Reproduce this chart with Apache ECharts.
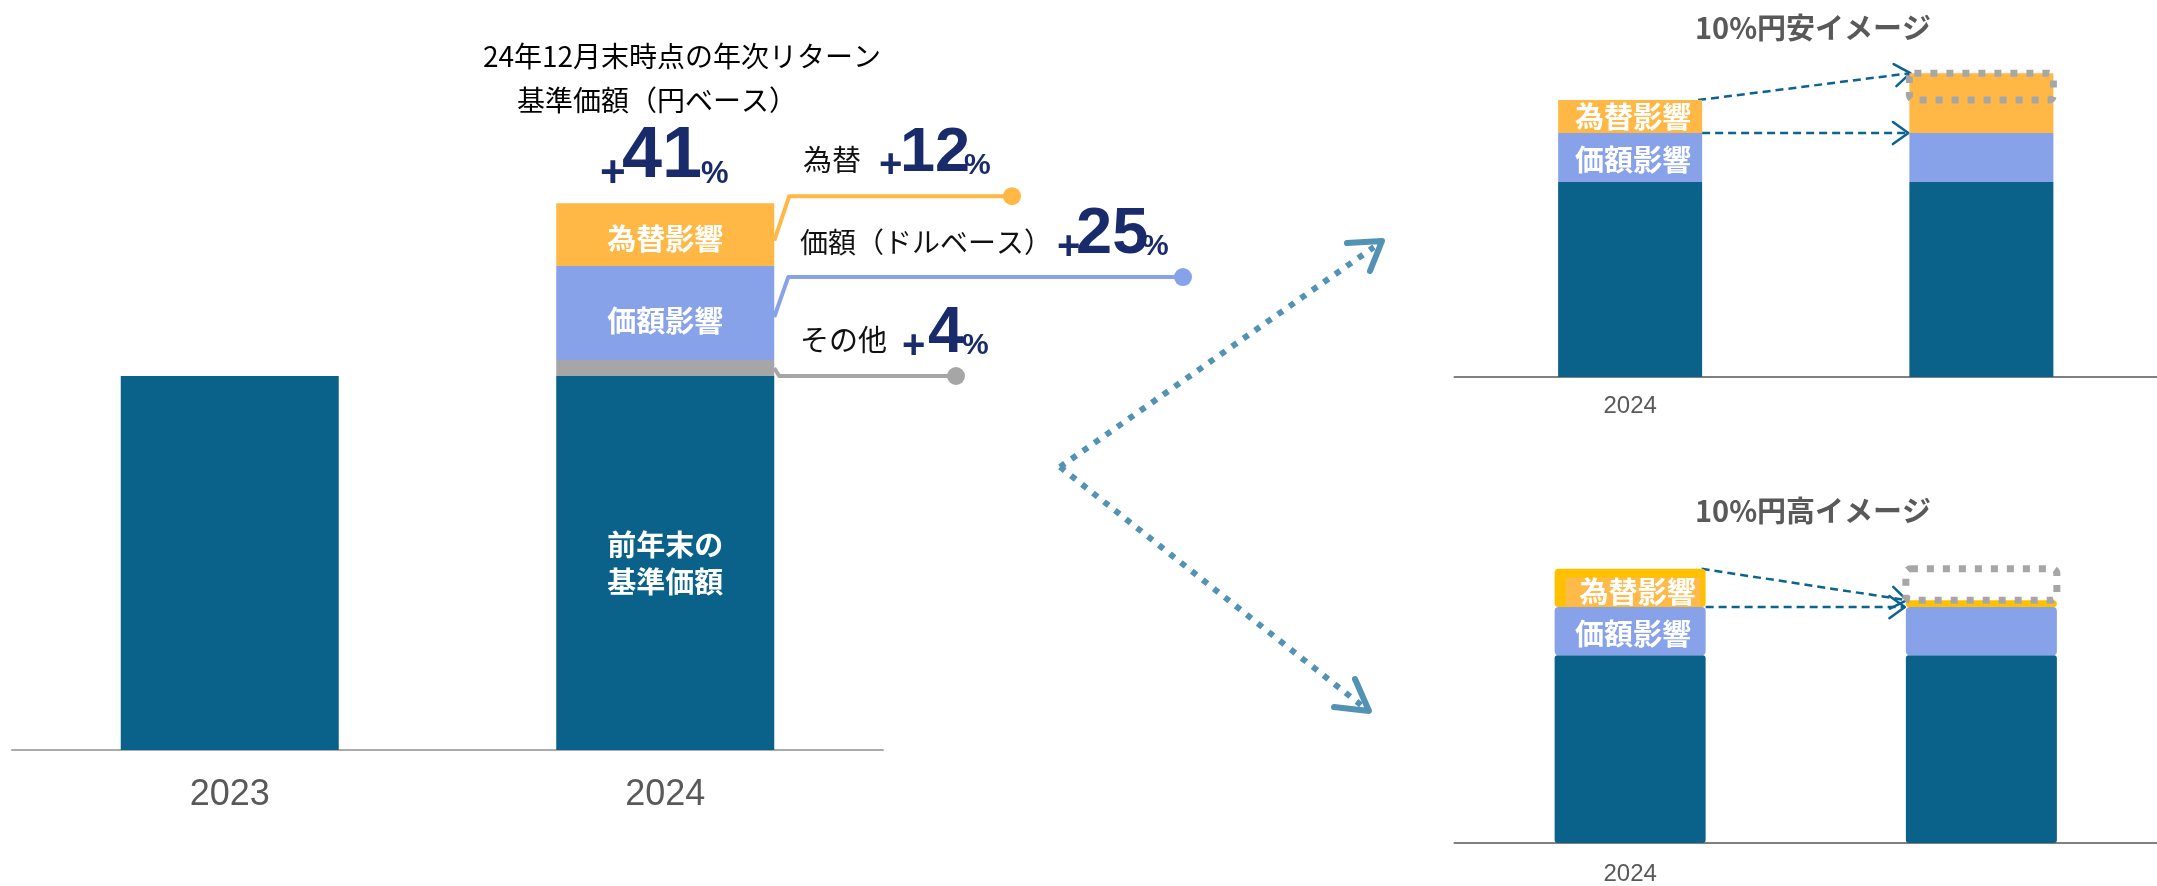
<!DOCTYPE html>
<html>
<head>
<meta charset="utf-8">
<script src="https://cdn.jsdelivr.net/npm/echarts@6.0.0/dist/echarts.min.js"></script>
<style>html,body{margin:0;padding:0;background:#fff}#c{width:2157px;height:886px}</style>
</head>
<body>
<div id="c"></div>
<script>
// ---------- data ----------
const mainCategories = ['2023', '2024'];
const mainBase  = [100, 100];
const mainOther = ['-', 4.3];
const mainPrice = ['-', 25.1];
const mainFx    = ['-', 16.8];

const sceneCategories = ['2024', ''];
const weakBase    = [100, 100];
const weakPrice   = [25.1, 25.1];
const weakFx      = [16.9, 16.9];
const weakFxExtra = ['-', 13.8];

const strongBase   = [100, 100];
const strongPrice  = [25.7, 25.7];
const strongFx     = [20.4, 3.7];
const strongFxLost = ['-', 16.8];

const titleLines = ['24年12月末時点の年次リターン', '基準価額（円ベース）'];
const totalReturn = '41';
const breakdownNames  = ['為替', '価額（ドルベース）', 'その他'];
const breakdownValues = ['12', '25', '4'];
const scenarioTitles = ['10%円安イメージ', '10%円高イメージ'];
const segmentNames = ['為替影響', '価額影響', '前年末の\n基準価額'];

// ---------- style ----------
const FONT_JP = '"Noto Sans CJK JP", "Noto Sans", sans-serif';
const FONT_NUM = '"Liberation Sans", Arial, "Noto Sans CJK JP", sans-serif';
const C_BASE = '#0A6189', C_PRICE = '#87A2E8', C_FX = '#FFB845', C_OTHER = '#A6A6A6', C_FX2 = '#FFC000';
const C_NAVY = '#1A2B6C', C_ARROW = '#0B6390', C_BIG = '#5292B5', C_DOT = '#A6A6A6';

const chart = echarts.init(document.getElementById('c'), null, {renderer: 'canvas'});

function lbl(text, idx, extra) {
  return Object.assign({
    show: true, position: 'inside', color: '#fff', fontWeight: 'bold', fontSize: 29,
    fontFamily: FONT_JP, formatter: p => (p.dataIndex === idx ? text : '')
  }, extra || {});
}
function bar(name, data, gi, color, barWidth, extra) {
  return Object.assign({
    type: 'bar', name, data, stack: 's' + gi, xAxisIndex: gi, yAxisIndex: gi,
    barWidth, itemStyle: {color}, silent: true, animation: false
  }, extra || {});
}

const xAxisCommon = {
  type: 'category', axisTick: {show: false},
  axisLabel: {color: '#595959', fontFamily: FONT_NUM}
};

const BW_MAIN = 218, BW_WEAK = 144, BW_STRONG = 151;

chart.setOption({
  backgroundColor: '#fff',
  animation: false,
  grid: [
    {left: 12, width: 871, top: 189, bottom: 136},
    {left: 1454.5, width: 718, top: 26, bottom: 509},
    {left: 1454.5, width: 718, top: 505.2, bottom: 37}
  ],
  xAxis: [
    Object.assign({}, xAxisCommon, {gridIndex: 0, data: mainCategories,
      axisLine: {lineStyle: {color: '#ABABAB', width: 2}},
      axisLabel: {color: '#595959', fontFamily: FONT_NUM, fontSize: 36, margin: 27}}),
    Object.assign({}, xAxisCommon, {gridIndex: 1, data: sceneCategories,
      axisLine: {lineStyle: {color: '#808080', width: 2}},
      axisLabel: {color: '#595959', fontFamily: FONT_NUM, fontSize: 24, margin: 17}}),
    Object.assign({}, xAxisCommon, {gridIndex: 2, data: sceneCategories,
      axisLine: {lineStyle: {color: '#808080', width: 2}},
      axisLabel: {color: '#595959', fontFamily: FONT_NUM, fontSize: 24, margin: 19}})
  ],
  yAxis: [
    {gridIndex: 0, type: 'value', min: 0, max: 150, show: false, splitLine: {show: false}},
    {gridIndex: 1, type: 'value', min: 0, max: 180, show: false, splitLine: {show: false}},
    {gridIndex: 2, type: 'value', min: 0, max: 180, show: false, splitLine: {show: false}}
  ],
  series: [
    bar('base', mainBase, 0, C_BASE, BW_MAIN, {label: lbl(segmentNames[2], 1, {lineHeight: 37})}),
    bar('other', mainOther, 0, C_OTHER, BW_MAIN),
    bar('price', mainPrice, 0, C_PRICE, BW_MAIN, {label: lbl(segmentNames[1], 1, {offset: [0, 8]})}),
    bar('fx', mainFx, 0, C_FX, BW_MAIN, {label: lbl(segmentNames[0], 1, {offset: [0, 4]})}),

    bar('base', weakBase, 1, C_BASE, BW_WEAK),
    bar('price', weakPrice, 1, C_PRICE, BW_WEAK, {label: lbl(segmentNames[1], 0, {offset: [3, 2]})}),
    bar('fx', weakFx, 1, C_FX, BW_WEAK, {label: lbl(segmentNames[0], 0, {offset: [3, 0]})}),
    bar('fxExtra', weakFxExtra, 1, C_FX, BW_WEAK),

    bar('base', strongBase, 2, C_BASE, BW_STRONG, {itemStyle: {color: C_BASE, borderRadius: 3}}),
    bar('price', strongPrice, 2, C_PRICE, BW_STRONG, {itemStyle: {color: C_PRICE, borderRadius: 4},
      label: lbl(segmentNames[1], 0, {offset: [3, 3]})}),
    bar('fx', strongFx, 2, C_FX2, BW_STRONG, {itemStyle: {color: C_FX2, borderRadius: 4},
      label: lbl(segmentNames[0], 0, {offset: [3, 4], backgroundColor: '#FFBA4A', padding: [0, 5, 0, 14]})}),
    bar('fxLost', strongFxLost, 2, 'rgba(0,0,0,0)', BW_STRONG)
  ]
});

// ---------- annotations (positions derived from the axes) ----------
const px = (gi, cat, val) => chart.convertToPixel({gridIndex: gi}, [cat, val]);
const num = v => (typeof v === 'number' ? v : 0);
const sum = (arrs, i) => arrs.reduce((s, a) => s + num(a[i]), 0);
const g = [];

function text(x, y, t, size, color, weight, align, family) {
  g.push({type: 'text', x, y, silent: true, style: {text: t, fill: color,
    font: (weight || 'normal') + ' ' + size + 'px ' + (family || FONT_JP),
    align: align || 'left', verticalAlign: 'middle'}});
}
function poly(points, stroke, w, dash, cap) {
  g.push({type: 'polyline', silent: true, shape: {points},
    style: {stroke, lineWidth: w, fill: null, lineDash: dash || null, lineCap: cap || 'butt', lineJoin: 'round'}});
}
function dot(x, y, r, c) { g.push({type: 'circle', silent: true, shape: {cx: x, cy: y, r}, style: {fill: c}}); }
function head(tip, from, len, ang, color, w) {
  const a = Math.atan2(tip[1] - from[1], tip[0] - from[0]);
  const p1 = [tip[0] - len * Math.cos(a - ang), tip[1] - len * Math.sin(a - ang)];
  const p2 = [tip[0] - len * Math.cos(a + ang), tip[1] - len * Math.sin(a + ang)];
  poly([p1, tip, p2], color, w, null, 'round');
}
function dottedBox(gi, cat, lo, hi, bw) {
  const c = px(gi, cat, 0)[0];
  const yHi = px(gi, cat, hi)[1], yLo = px(gi, cat, lo)[1];
  g.push({type: 'rect', silent: true, z: 10,
    shape: {x: c - bw / 2, y: yHi, width: bw, height: yLo - yHi, r: 5},
    style: {fill: null, stroke: C_DOT, lineWidth: 7, lineDash: [7, 9]}});
}

// titles
text(682, 56, titleLines[0], 28, '#000', 'normal', 'center');
text(657, 100, titleLines[1], 28, '#000', 'normal', 'center');

// total return
text(600, 175, '+', 44, C_NAVY, 'bold', 'left', FONT_NUM);
text(622, 157, totalReturn, 72, C_NAVY, 'bold', 'left', FONT_NUM);
text(701, 174, '%', 31, C_NAVY, 'bold', 'left', FONT_NUM);

// leader lines from the 2024 bar
const c24 = px(0, 1, 0)[0];
const xR = c24 + BW_MAIN / 2;
const yBaseTop = px(0, 1, mainBase[1])[1];
const yOtherTop = px(0, 1, sum([mainBase, mainOther], 1))[1];
const yPriceTop = px(0, 1, sum([mainBase, mainOther, mainPrice], 1))[1];
const yFxTop = px(0, 1, sum([mainBase, mainOther, mainPrice, mainFx], 1))[1];
const yFxMid = (yFxTop + yPriceTop) / 2, yPriceMid = (yPriceTop + yOtherTop) / 2, yOtherMid = (yOtherTop + yBaseTop) / 2;

const lvFx = yFxTop - 7, lvPrice = yPriceTop + 11, lvOther = yBaseTop;
poly([[xR, yFxMid + 6], [xR + 15, lvFx], [1012, lvFx]], C_FX, 4);
dot(1012, lvFx, 9, C_FX);
poly([[xR, yPriceMid + 4], [xR + 14, lvPrice], [1183, lvPrice]], C_PRICE, 4);
dot(1183, lvPrice, 9, C_PRICE);
poly([[xR, yOtherMid], [xR + 5, lvOther], [956, lvOther]], C_OTHER, 4);
dot(956, lvOther, 9, C_OTHER);

// breakdown labels
text(803, 160, breakdownNames[0], 29, '#111');
text(879, 166, '+', 40, C_NAVY, 'bold', 'left', FONT_NUM);
text(900, 154, breakdownValues[0], 63, C_NAVY, 'bold', 'left', FONT_NUM);
text(964, 166, '%', 30, C_NAVY, 'bold', 'left', FONT_NUM);

text(800, 242, breakdownNames[1], 28, '#111');
text(1057, 248, '+', 40, C_NAVY, 'bold', 'left', FONT_NUM);
text(1076, 235, breakdownValues[1], 65, C_NAVY, 'bold', 'left', FONT_NUM);
text(1142, 247, '%', 30, C_NAVY, 'bold', 'left', FONT_NUM);

text(800, 340, breakdownNames[2], 29, '#111');
text(902, 347, '+', 40, C_NAVY, 'bold', 'left', FONT_NUM);
text(928, 334, breakdownValues[2], 64, C_NAVY, 'bold', 'left', FONT_NUM);
text(962, 346, '%', 30, C_NAVY, 'bold', 'left', FONT_NUM);

// big dotted arrows
const vtx = [1060, 467], upTip = [1382, 241], dnTip = [1369, 711];
poly([vtx, [upTip[0] - 8, upTip[1] + 6]], C_BIG, 6, [6, 8]);
poly([vtx, [dnTip[0] - 8, dnTip[1] - 6]], C_BIG, 6, [6, 8]);
poly([[1347, 243], upTip, [1370, 271]], C_BIG, 6, null, 'round');
poly([[1334, 707], dnTip, [1355, 679]], C_BIG, 6, null, 'round');

// scenario titles
text(1813, 28, scenarioTitles[0], 29, '#595959', 'bold', 'center');
text(1813, 511, scenarioTitles[1], 29, '#595959', 'bold', 'center');

// dotted boxes showing the changed FX portion
dottedBox(1, 1, sum([weakBase, weakPrice, weakFx], 1), sum([weakBase, weakPrice, weakFx, weakFxExtra], 1), BW_WEAK);
dottedBox(2, 1, sum([strongBase, strongPrice, strongFx], 1), sum([strongBase, strongPrice, strongFx, strongFxLost], 1), BW_STRONG);

// dashed arrows in scenario panels
function scenarioArrows(gi, base, price, fxL, fxR, extraR, bwS) {
  const cL = px(gi, 0, 0)[0], cR = px(gi, 1, 0)[0];
  const xs = cL + bwS / 2 - 4, xe = cR - bwS / 2 + 1;
  const yTopL = px(gi, 0, sum([base, price, fxL], 0))[1];
  const yPriceL = px(gi, 0, sum([base, price], 0))[1];
  const yTopR = px(gi, 1, sum([base, price, fxR, extraR], 1))[1];
  const yPriceR = px(gi, 1, sum([base, price], 1))[1];
  return [[xs, yTopL, xe, yTopR], [xs + 4, yPriceL, xe - 2, yPriceR]];
}
const weakArr = scenarioArrows(1, weakBase, weakPrice, weakFx, weakFx, weakFxExtra, BW_WEAK);
const strongArr = scenarioArrows(2, strongBase, strongPrice, strongFx, strongFx, [0, 0], BW_STRONG);
[weakArr[0], weakArr[1], strongArr[0], strongArr[1]].forEach(a => {
  poly([[a[0], a[1]], [a[2], a[3]]], C_ARROW, 2.5, [8, 5]);
  head([a[2], a[3]], [a[0], a[1]], 19, 0.62, C_ARROW, 2.5);
});

chart.setOption({graphic: g});
</script>
</body>
</html>
